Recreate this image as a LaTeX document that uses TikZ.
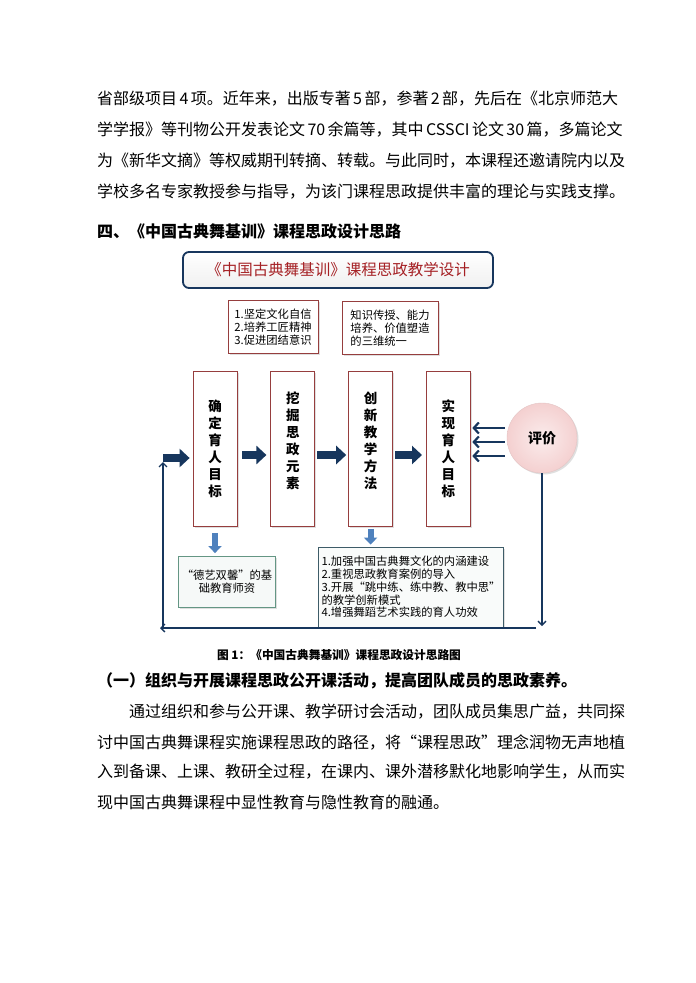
\documentclass[tikz,border=0pt]{standalone}
\usepackage{fontspec}
\setmainfont{Noto Sans CJK SC}
\usetikzlibrary{arrows.meta,positioning,shadows}
\XeTeXlinebreaklocale "zh"

\definecolor{navy}{RGB}{23,54,93}
\definecolor{arrowblue}{RGB}{79,129,189}
\definecolor{titlered}{RGB}{165,32,36}
\definecolor{boxred}{RGB}{150,62,62}
\definecolor{boxgreen}{RGB}{100,150,132}
\definecolor{boxslate}{RGB}{62,92,104}
\definecolor{evalpink}{RGB}{244,208,208}

% one justified line of body text
\newcommand{\fullline}[2][517pt]{\hbox to #1{\XeTeXlinebreakskip=0pt plus 1fil minus 0.4pt\relax #2}}

\begin{document}
\begin{tikzpicture}[
  x=1pt, y=-1pt,
  bodytext/.style={anchor=west, inner sep=0pt, font=\fontsize{16pt}{20pt}\selectfont},
  boldtext/.style={anchor=west, inner sep=0pt, font=\fontsize{16pt}{20pt}\selectfont\bfseries},
  softshadow/.style={drop shadow={shadow xshift=1.5pt, shadow yshift=-1.5pt, opacity=0.25}},
  titlebox/.style={draw=navy, line width=1.8pt, rounded corners=6pt, top color=white, bottom color=gray!12,
    minimum width=310pt, minimum height=36pt, text=titlered, font=\fontsize{15.5pt}{18pt}\selectfont},
  notebox/.style={draw=boxred, line width=0.8pt, fill=white, align=left, softshadow,
    minimum height=53pt, font=\fontsize{11.3pt}{12.8pt}\selectfont},
  stagebox/.style={draw=boxred, line width=0.8pt, fill=white, align=center, softshadow,
    minimum width=44pt, minimum height=155pt, font=\fontsize{13.5pt}{17pt}\selectfont\bfseries},
  resultbox/.style={line width=0.8pt, align=left, softshadow, font=\fontsize{11.3pt}{12.8pt}\selectfont},
  evalnode/.style={circle, minimum size=70pt, inner sep=0pt, inner color=white!60!evalpink, outer color=evalpink,
    draw=evalpink!85!gray, line width=0.4pt, softshadow, font=\fontsize{14pt}{16pt}\selectfont\bfseries},
  bigarrow/.style={draw=navy, line width=8pt, -{Triangle[length=10pt,width=18pt]}},
  downarrow/.style={draw=arrowblue, line width=6pt, -{Triangle[length=7pt,width=13pt]}},
  evalarrow/.style={draw=navy, line width=2.2pt, -{Straight Barb[length=5pt,width=11pt]}},
  loopline/.style={draw=navy, line width=1.3pt, -{Straight Barb[length=4pt,width=8pt]}}
]
  \fill[white] (0,0) rectangle (696,983);
  \useasboundingbox (0,0) rectangle (696,983);

  % text above the figure
  \node[bodytext] (p1) at (97,99) {\fullline{省部级项目 4 项。近年来，出版专著 5 部，参著 2 部，先后在《北京师范大}};
  \node[bodytext] (p2) at (97,130) {\fullline{学学报》等刊物公开发表论文 70 余篇等，其中 CSSCI 论文 30 篇，多篇论文}};
  \node[bodytext] (p3) at (97,161) {\fullline{为《新华文摘》等权威期刊转摘、转载。与此同时，本课程还邀请院内以及}};
  \node[bodytext] (p4) at (97,192) {\fullline{学校多名专家教授参与指导，为该门课程思政提供丰富的理论与实践支撑。}};
  \node[boldtext] (head) at (97,231) {四、《中国古典舞基训》课程思政设计思路};

  % figure
  \node[titlebox] (title) at (338,270) {《中国古典舞基训》课程思政教学设计};
  \node[notebox, minimum width=90pt] (aims) at (273,327) {1.坚定文化自信\\2.培养工匠精神\\3.促进团结意识};
  \node[notebox, minimum width=96pt] (unity) at (390,328) {知识传授、能力\\培养、价值塑造\\的三维统一};

  \node[stagebox] (b1) at (215,449) {确\\定\\育\\人\\目\\标};
  \node[stagebox, right=33pt of b1, text depth=18pt] (b2) {挖\\掘\\思\\政\\元\\素};
  \node[stagebox, right=33pt of b2, text depth=18pt] (b3) {创\\新\\教\\学\\方\\法};
  \node[stagebox, right=33pt of b3] (b4) {实\\现\\育\\人\\目\\标};

  \node[evalnode] (eval) at (542,438) {评价};

  \node[resultbox, draw=boxgreen, fill=boxgreen!6, align=center, minimum width=86pt, minimum height=51pt]
    (teachers) at (227,582) {“德艺双馨”的基\\础教育师资};
  \node[resultbox, draw=boxslate, fill=boxgreen!4, minimum width=181pt, minimum height=80pt]
    (measures) at (411,587) {1.加强中国古典舞文化的内涵建设\\2.重视思政教育案例的导入\\3.开展“跳中练、练中教、教中思”\\的教学创新模式\\4.增强舞蹈艺术实践的育人功效};

  % flow arrows
  \coordinate (arow) at (0,455);
  \draw[bigarrow, shorten <=5pt, shorten >=4pt] (b1.east |- arow) -- (b2.west |- arow);
  \draw[bigarrow, shorten <=2pt, shorten >=2pt] (b2.east |- arow) -- (b3.west |- arow);
  \draw[bigarrow, shorten <=2pt, shorten >=4pt] (b3.east |- arow) -- (b4.west |- arow);
  \draw[downarrow, shorten <=6pt, shorten >=3pt] (b1.south) -- (b1.south |- teachers.north);
  \draw[downarrow, shorten <=2pt, shorten >=2pt] (b3.south) -- (b3.south |- measures.north);

  % evaluation feedback
  \foreach \y in {428,442,456}
    \draw[evalarrow, shorten <=2pt, shorten >=1.5pt] (eval.west |- 0,\y) -- (b4.east |- 0,\y);
  \coordinate (ldown) at (542,626);
  \coordinate (lright) at (536,628);
  \coordinate (lleft) at (160,628);
  \coordinate (lbot) at (163,628);
  \coordinate (ltop) at (163,462);
  \coordinate (lin) at (163,458);
  \draw[loopline] (eval.south) -- (ldown);
  \draw[loopline] (lright) -- (lleft);
  \draw[loopline] (lbot) -- (ltop);
  \draw[bigarrow, shorten >=3pt] (lin) -- (b1.west |- lin);

  \node[font=\fontsize{11.7pt}{14pt}\selectfont\bfseries] (caption) at (339,655) {图 1：《中国古典舞基训》课程思政设计思路图};

  % text below the figure
  \node[boldtext] (sub) at (97,681) {（一）组织与开展课程思政公开课活动，提高团队成员的思政素养。};
  \node[bodytext] (q1) at (129,712) {\fullline[485pt]{通过组织和参与公开课、教学研讨会活动，团队成员集思广益，共同探}};
  \node[bodytext] (q2) at (97,742) {\fullline{讨中国古典舞课程实施课程思政的路径，将“课程思政”理念润物无声地植}};
  \node[bodytext] (q3) at (97,772) {\fullline{入到备课、上课、教研全过程，在课内、课外潜移默化地影响学生，从而实}};
  \node[bodytext] (q4) at (97,802) {现中国古典舞课程中显性教育与隐性教育的融通。};
\end{tikzpicture}
\end{document}
